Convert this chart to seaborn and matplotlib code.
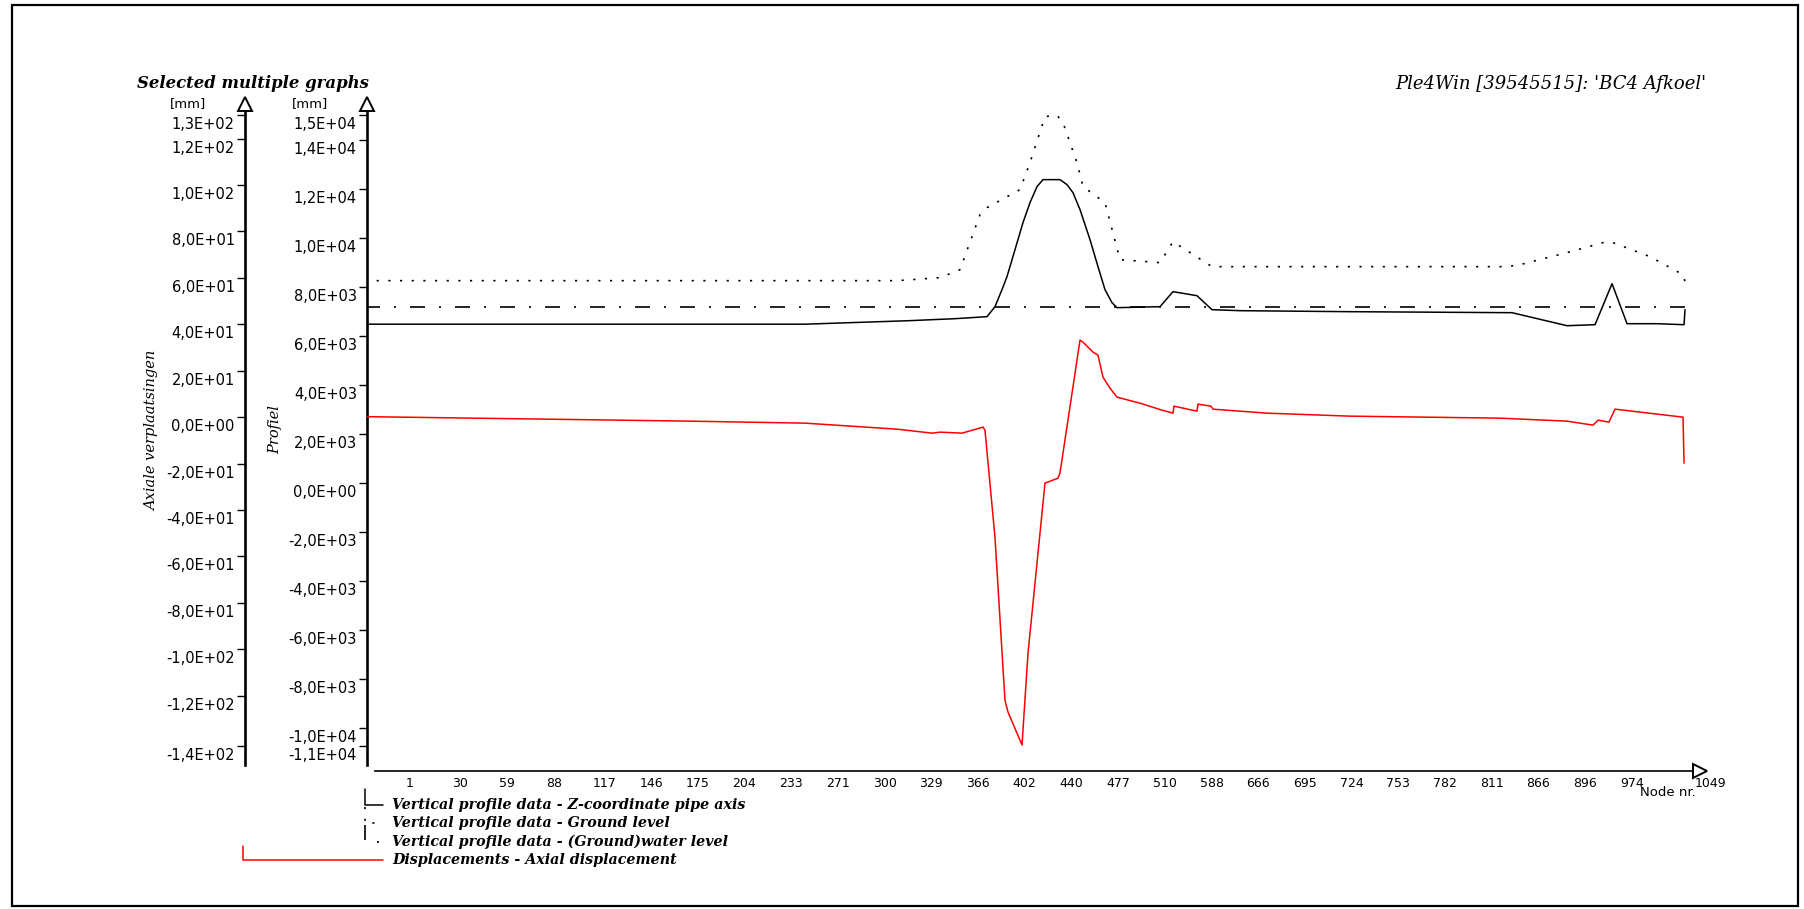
import matplotlib
matplotlib.use("Agg")
import matplotlib.pyplot as plt
from matplotlib.lines import Line2D
from matplotlib.patches import Rectangle
from matplotlib.transforms import ScaledTranslation
import seaborn as sns

# ---------------------------------------------------------------- data ----
# Node numbers printed along the pipeline, at equally spaced stations
node_labels = ["1", "30", "59", "88", "117", "146", "175", "204", "233", "271",
               "300", "329", "366", "402", "440", "477", "510", "588", "666",
               "695", "724", "753", "782", "811", "866", "896", "974", "1049"]
node_station = [0, 1, 2, 3, 4, 5, 6, 7, 8, 9, 10, 11, 12, 13, 14, 15, 16, 17,
                18, 19, 20, 21, 22, 23, 24, 25, 26, 27.6]

# Vertical profile data - Ground level [mm]
ground_station = [-0.786, 10.606, 11.527, 11.955, 12.383, 12.533, 13.240, 13.454,
                  13.775, 14.032, 14.160, 14.460, 14.589, 15.060, 15.381, 16.238,
                  16.516, 17.351, 23.668, 23.946, 24.953, 25.724, 25.938, 26.730,
                  27.437, 27.480]
ground_level = [8270, 8270, 8393, 8720, 10969, 11255, 11992, 13096,
                14977, 15030, 14732, 13096, 12114, 11460, 9129, 9006,
                9865, 8843, 8843, 8924, 9415, 9824, 9824, 9252,
                8515, 8229]

# Vertical profile data - Z-coordinate pipe axis [mm]
pipe_station = [-0.786, 8.636, 10.863, 11.848, 12.533, 12.704, 12.854, 12.961,
                13.133, 13.304, 13.454, 13.604, 13.732, 14.096, 14.246, 14.374,
                14.525, 14.739, 14.910, 15.060, 15.210, 15.317, 16.238, 16.516,
                17.029, 17.351, 17.951, 20.306, 23.775, 24.953, 25.553, 25.917,
                26.238, 26.880, 27.459, 27.480]
pipe_z = [6491, 6491, 6634, 6716, 6798, 7207, 7902, 8434,
          9538, 10642, 11460, 12114, 12400, 12400, 12196, 11869,
          11173, 9946, 8843, 7902, 7370, 7166, 7207, 7820,
          7656, 7084, 7043, 7002, 6961, 6429, 6470, 8147,
          6511, 6511, 6470, 7084]

# Vertical profile data - (Ground)water level [mm]
water_station = [-0.786, 27.480]
water_level = [7207, 7207]

# Displacements - Axial displacement [mm]
disp_station = [-0.786, 6.173, 8.636, 10.606, 11.356, 11.527, 11.998, 12.448,
                12.490, 12.704, 12.918, 12.983, 13.283, 13.411, 13.625, 13.775,
                14.053, 14.096, 14.525, 14.589, 14.803, 14.910, 15.017, 15.167,
                15.317, 15.809, 16.280, 16.516, 16.537, 17.029, 17.051, 17.329,
                17.372, 18.529, 20.306, 23.518, 24.953, 25.510, 25.617, 25.852,
                25.981, 27.437, 27.459]
disp_axial = [0.22, -1.72, -2.58, -5.17, -6.89, -6.46, -6.89, -4.31,
              -5.60, -51.7, -121.9, -127.0, -141.2, -101.7, -58.6, -28.4,
              -26.3, -24.1, 33.2, 32.3, 28.0, 26.7, 17.2, 12.5,
              8.61, 6.03, 3.01, 1.72, 4.74, 2.58, 5.60, 4.74,
              3.44, 1.72, 0.43, -0.43, -1.72, -3.44, -1.29, -2.15,
              3.44, 0.0, -19.8]

# Axis tick values (first and last are the axis extremes)
profile_ticks = [-10740, -10000, -8000, -6000, -4000, -2000, 0, 2000, 4000,
                 6000, 8000, 10000, 12000, 14000, 15030]
disp_ticks = [-141.5, -120, -100, -80, -60, -40, -20, 0, 20, 40, 60, 80,
              100, 120, 130.0]

legend_texts = ["Vertical profile data - Z-coordinate pipe axis",
                "Vertical profile data - Ground level",
                "Vertical profile data - (Ground)water level",
                "Displacements - Axial displacement"]

# -------------------------------------------------------------- styling ----
sns.set_theme(style="white", rc={
    "axes.edgecolor": "black", "xtick.color": "black", "ytick.color": "black",
    "text.color": "black", "axes.labelcolor": "black",
})
plt.rcParams["font.family"] = ["DejaVu Sans"]

W, H, DPI = 1804, 909, 100
fig = plt.figure(figsize=(W / DPI, H / DPI), dpi=DPI)
fig.patch.set_facecolor("white")


def fx(px):
    return px / W


def fy(py):
    return 1 - py / H


# plotting frame geometry (pixels)
AX_L, AX_R, AX_T, AX_B = 367, 1712, 100, 771
DATA_T, DATA_B = 115.3, 745.7
ST0_PX, ST_PX = 401.7, 46.7
DISP_AXIS_PX = 245

SERIF = dict(family="DejaVu Serif", style="italic")


def ylims(v_top, v_bot):
    per_px = (v_top - v_bot) / (DATA_B - DATA_T)
    return v_bot - (AX_B - DATA_B) * per_px, v_top + (DATA_T - AX_T) * per_px


def y_at(lims, py):
    lo, hi = lims
    return lo + (AX_B - py) / (AX_B - AX_T) * (hi - lo)


ax = fig.add_axes([fx(AX_L), fy(AX_B), (AX_R - AX_L) / W, (AX_B - AX_T) / H])
ax.patch.set_visible(False)
ax2 = ax.twinx()

LW = 1.1
dot_style = (0, (1.3, 5.7))
dashdot_style = (0, (9, 8.4, 1.2, 8.4))

sns.lineplot(x=ground_station, y=ground_level, ax=ax, color="black", lw=1.2,
             linestyle=dot_style, estimator=None, sort=False, legend=False)
sns.lineplot(x=water_station, y=water_level, ax=ax, color="black", lw=1.2,
             linestyle=dashdot_style, estimator=None, sort=False, legend=False)
sns.lineplot(x=pipe_station, y=pipe_z, ax=ax, color="black", lw=LW,
             estimator=None, sort=False, legend=False)
sns.lineplot(x=disp_station, y=disp_axial, ax=ax2, color="#ff0000", lw=LW,
             estimator=None, sort=False, legend=False)

# axis ranges
xl = ((AX_L - ST0_PX) / ST_PX, (AX_R - ST0_PX) / ST_PX)
ax.set_xlim(*xl)
prof_lims = ylims(profile_ticks[-1], profile_ticks[0])
disp_lims = ylims(disp_ticks[-1], disp_ticks[0])
ax.set_ylim(*prof_lims)
ax2.set_ylim(*disp_lims)

# spines
for s in ("top", "right"):
    ax.spines[s].set_visible(False)
for s in ("top", "right", "bottom"):
    ax2.spines[s].set_visible(False)
ax2.spines["left"].set_visible(True)
ax2.spines["left"].set_position(("axes", (DISP_AXIS_PX - AX_L) / (AX_R - AX_L)))
ax2.yaxis.tick_left()
ax2.yaxis.set_label_position("left")

ax.spines["left"].set_linewidth(1.9)
ax2.spines["left"].set_linewidth(1.9)
ax.spines["bottom"].set_linewidth(1.2)
ax.spines["left"].set_bounds(y_at(prof_lims, 765), y_at(prof_lims, 108))
ax2.spines["left"].set_bounds(y_at(disp_lims, 765), y_at(disp_lims, 108))
ax.spines["bottom"].set_bounds((375 - ST0_PX) / ST_PX, (1696 - ST0_PX) / ST_PX)


def sci(v):
    return f"{v:.1E}".replace(".", ",")


ax.set_yticks(profile_ticks, labels=[sci(v) for v in profile_ticks])
ax2.set_yticks(disp_ticks, labels=[sci(v) for v in disp_ticks])
ax.set_xticks(node_station, labels=node_labels)

for a in (ax, ax2):
    a.tick_params(axis="y", direction="out", length=5.8, width=1.0, pad=1.5,
                  labelsize=10.5)
ax.tick_params(axis="x", direction="out", length=3.5, width=1.0, pad=0.5,
               labelsize=9)

# axis titles
ax.set_ylabel("Profiel", size=10.5, va="center", **SERIF)
ax.yaxis.set_label_coords(fx(275), fy(430), transform=fig.transFigure)
ax2.set_ylabel("Axiale verplaatsingen", size=10.5, va="center", **SERIF)
ax2.yaxis.set_label_coords(fx(152), fy(431), transform=fig.transFigure)
ax.set_xlabel("Node nr.", size=9.5, va="center")
ax.xaxis.set_label_coords(fx(1668), fy(793), transform=fig.transFigure)

fig.text(fx(188), fy(104), "[mm]", ha="center", va="center", size=9.5)
fig.text(fx(310), fy(104), "[mm]", ha="center", va="center", size=9.5)
fig.text(fx(137), fy(84), "Selected multiple graphs", ha="left", va="center",
         weight="bold", size=11.9, **SERIF)
fig.text(fx(1706), fy(84), "Ple4Win [39545515]: 'BC4 Afkoel'", ha="right",
         va="center", size=13, **SERIF)

# open arrowheads at the axis ends
for px, py, mk in ((DISP_AXIS_PX, 104, "^"), (AX_L, 104, "^"), (1700, 771, ">")):
    fig.add_artist(Line2D([fx(px)], [fy(py)], marker=mk, markersize=9.5,
                          markerfacecolor="white", markeredgecolor="black",
                          markeredgewidth=1.4, transform=fig.transFigure))

# legend: each key hangs from the axis it belongs to
legend_keys = [
    ([365, 365, 383], [789, 805, 805], "black", "-", LW),
    ([365, 365, 383], [807, 823, 823], "black", dot_style, 1.2),
    ([365, 365, 383], [825, 842, 842], "black", dashdot_style, 1.2),
    ([243, 243, 383], [846, 860, 860], "#ff0000", "-", LW),
]
for (xs, ys, col, ls, lw), label in zip(legend_keys, legend_texts):
    fig.add_artist(Line2D([fx(v) for v in xs], [fy(v) for v in ys], color=col,
                          linestyle=ls, lw=lw, transform=fig.transFigure))
    fig.text(fx(392), fy(ys[-1]), label, ha="left", va="center", size=10.3,
             weight="bold", **SERIF)

# page frame
fig.add_artist(Rectangle((fx(12), fy(906)), fx(1798) - fx(12), fy(5) - fy(906),
                         transform=fig.transFigure, fill=False, lw=1.6,
                         edgecolor="black"))

# tick label placement: y labels sit just below their tick, x labels to the right
shift_down = ScaledTranslation(0, -8 / DPI, fig.dpi_scale_trans)
for a in (ax, ax2):
    for lab in a.get_yticklabels():
        lab.set_transform(lab.get_transform() + shift_down)
shift_right = ScaledTranslation(4 / DPI, 0, fig.dpi_scale_trans)
for lab in ax.get_xticklabels():
    lab.set_transform(lab.get_transform() + shift_right)
    lab.set_horizontalalignment("left")

fig.savefig("out.png", dpi=DPI, facecolor="white")
